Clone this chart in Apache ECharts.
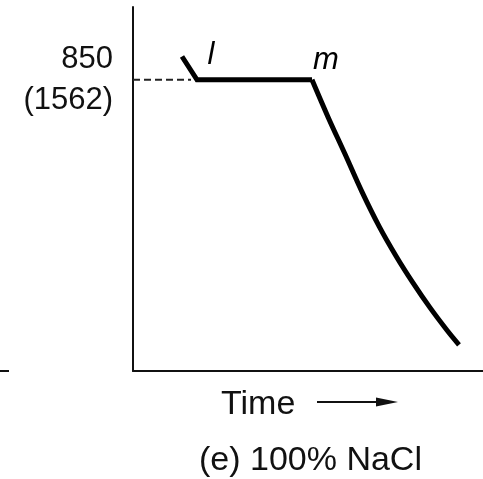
<!DOCTYPE html>
<html lang="en">
<head>
    <meta charset="UTF-8">
    <title>index</title>
    <script src="https://cdn.jsdelivr.net/npm/echarts@6/dist/echarts.min.js"></script>
    <style>
        html, body { margin: 0; padding: 0; background: #fff; }
    </style>
</head>
<body>
<div id="main" style="width: 483px;height:479px;"></div>

<script type="text/javascript">
    // cooling curve of pure NaCl (time in arbitrary units, temperature in C)
    var coolStart = [[4.9, 866], [6.4, 850], [17.9, 850]];
    var solidTime = [17.9, 19.5, 21.2, 22.9, 24.6, 26.3, 28.0, 29.7, 31.4, 32.6];
    var solidTemp = [850, 824.5, 799, 773, 749.5, 729, 710.5, 693.5, 678, 668];
    var meltLine = [[0, 850], [5.8, 850]];
    var pointNames = ['l', 'm'];
    var pointCoords = [[6.4, 850], [17.9, 850]];

    var font = 'Liberation Sans, Arial, sans-serif';

    var solidData = [];
    for (var i = 0; i < solidTime.length; i++) {
        solidData.push([solidTime[i], solidTemp[i]]);
    }

    var labelOffsets = [[14, -24], [14, -19]];
    var pointData = [];
    for (var j = 0; j < pointNames.length; j++) {
        pointData.push({
            value: pointCoords[j],
            name: pointNames[j],
            label: { offset: labelOffsets[j] }
        });
    }

    var myChart = echarts.init(document.getElementById('main'));

    var option = {
        animation: false,
        backgroundColor: '#fff',
        title: {
            text: '(e) 100% NaCl',
            left: 199,
            top: 444,
            padding: 0,
            textStyle: { fontFamily: font, fontSize: 34, fontWeight: 'normal', color: '#111' }
        },
        grid: { left: 133, right: 0, top: 7, bottom: 108 },
        xAxis: {
            type: 'value',
            min: 0,
            max: 35,
            name: 'Time',
            nameLocation: 'start',
            nameGap: -88,
            nameTextStyle: {
                fontFamily: font, fontSize: 34, color: '#111',
                align: 'left', verticalAlign: 'top', padding: [17, 0, 0, 0]
            },
            axisLine: { show: true, lineStyle: { color: '#111', width: 2 } },
            axisTick: { show: false },
            axisLabel: { show: false },
            splitLine: { show: false }
        },
        yAxis: {
            type: 'value',
            min: 650,
            max: 900,
            interval: 50,
            axisLine: { show: true, lineStyle: { color: '#111', width: 2 } },
            axisTick: { show: false },
            splitLine: { show: false },
            axisLabel: {
                margin: 20,
                fontFamily: font,
                fontSize: 31,
                lineHeight: 41,
                color: '#111',
                align: 'right',
                formatter: function (v) { return v === 850 ? '850\n(1562)' : ''; }
            }
        },
        graphic: [
            { type: 'line', shape: { x1: 0, y1: 371, x2: 9, y2: 371 }, style: { stroke: '#111', lineWidth: 2 } },
            { type: 'line', shape: { x1: 317, y1: 402, x2: 384, y2: 402 }, style: { stroke: '#111', lineWidth: 2 } },
            { type: 'polygon', shape: { points: [[376, 397.5], [398, 402], [376, 406.5]] }, style: { fill: '#111' } }
        ],
        series: [
            {
                name: 'melt',
                type: 'line',
                data: meltLine,
                symbol: 'none',
                lineStyle: { color: '#222', width: 2, type: [7, 4] }
            },
            {
                name: 'liquid',
                type: 'line',
                data: coolStart,
                symbol: 'none',
                lineStyle: { color: '#000', width: 5, cap: 'butt', join: 'miter' }
            },
            {
                name: 'solid',
                type: 'line',
                data: solidData,
                symbol: 'none',
                smooth: 0.4,
                lineStyle: { color: '#000', width: 5, cap: 'butt', join: 'miter' }
            },
            {
                name: 'points',
                type: 'scatter',
                data: pointData,
                symbolSize: 0,
                itemStyle: { color: '#000' },
                label: {
                    show: true,
                    position: 'inside',
                    formatter: '{b}',
                    fontFamily: font,
                    fontStyle: 'italic',
                    fontSize: 31,
                    color: '#000',
                    opacity: 1,
                    textBorderWidth: 0
                }
            }
        ]
    };

    myChart.setOption(option);
</script>
</body>
</html>
